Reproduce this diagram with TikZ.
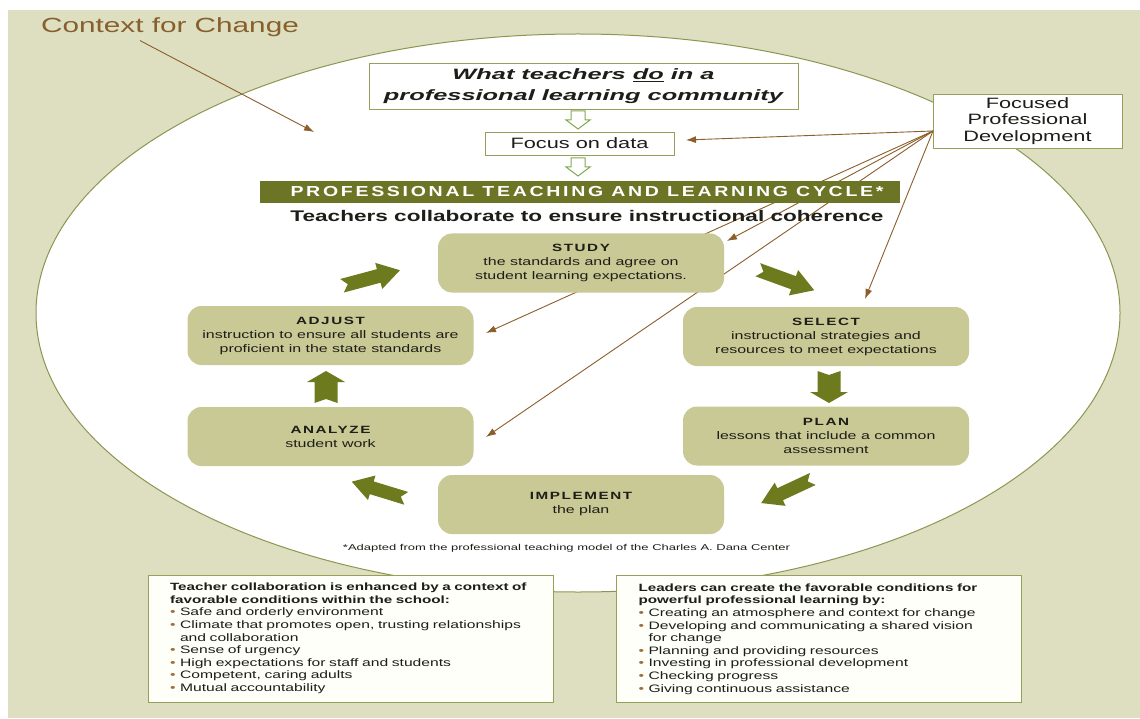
\documentclass[tikz,border=0pt]{standalone}
\usepackage{fontspec}
\usepackage{graphicx}
\setmainfont{Liberation Sans}[FakeStretch=1.45]
\newfontfamily\ttlfont{Liberation Sans}[FakeStretch=1.45,LetterSpace=15]
\newfontfamily\bannerfont{Liberation Sans}[FakeStretch=1.3,LetterSpace=18]
\usetikzlibrary{arrows.meta}
\definecolor{bgc}{RGB}{222,223,192}
\definecolor{elc}{RGB}{140,150,80}
\definecolor{khaki}{RGB}{201,201,149}
\definecolor{chevc}{RGB}{110,122,30}
\definecolor{bannerc}{RGB}{108,116,38}
\definecolor{brownc}{RGB}{139,94,44}
\definecolor{ctxc}{RGB}{135,95,45}
\definecolor{hollowc}{RGB}{130,170,80}
\definecolor{boxc}{RGB}{150,160,90}
\definecolor{creamc}{RGB}{255,255,250}
\definecolor{bulc}{RGB}{160,110,60}
\definecolor{txtc}{RGB}{30,30,25}
\newcommand\hfit[2]{\resizebox{#1}{\height}{#2}}
\newcommand\bul{\makebox[10pt][l]{\textcolor{bulc}{\textbullet}}}
\newcommand\ttl[1]{{\fontsize{10.5}{14}\ttlfont\bfseries #1}}
\newcommand\hdr[1]{{\fontsize{10.5}{12.6}\selectfont\bfseries #1}}
\tikzset{
  wbox/.style={draw=boxc, fill=white, line width=0.9pt},
  cbox/.style={fill=khaki, rounded corners=14pt, minimum width=286pt, minimum height=59pt,
    inner sep=0pt, align=center, text=txtc, font=\fontsize{11}{14}\selectfont},
  bbox/.style={draw=boxc, fill=creamc, line width=0.9pt, minimum height=127pt, text width=361pt,
    inner xsep=22pt, align=left, text=txtc, font=\fontsize{10.8}{12.6}\selectfont},
  brarrow/.style={draw=brownc, line width=0.9pt, -{Latex[length=10pt,width=7pt]}},
  chevL/.pic={\fill[chevc] (-30pt,7pt) -- (8pt,7pt) -- (8pt,13.5pt) -- (30pt,0pt) -- (8pt,-13.5pt)
      -- (8pt,-7pt) -- (-30pt,-7pt) -- (-24pt,0pt) -- cycle;},
  chevS/.pic={\fill[chevc] (-16pt,11.5pt) -- (5pt,11.5pt) -- (5pt,19pt) -- (16pt,0pt) -- (5pt,-19pt)
      -- (5pt,-11.5pt) -- (-16pt,-11.5pt) -- (-12pt,0pt) -- cycle;},
  harrow/.pic={\draw[hollowc, line width=1pt, fill=white] (-7pt,9pt) -- (7pt,9pt) -- (7pt,0pt)
      -- (12pt,0pt) -- (0pt,-9pt) -- (-12pt,0pt) -- (-7pt,0pt) -- cycle;}
}
\begin{document}
\begin{tikzpicture}[x=1pt,y=-1pt]
\useasboundingbox (0,0) rectangle (1140,719);
\fill[bgc] (8,10) rectangle (1140,718);
\draw[elc, line width=1pt, fill=white] (578,313) ellipse [x radius=542, y radius=279];

% white boxes
\node[wbox, minimum width=429pt, minimum height=46pt, inner sep=0pt, align=center, text=txtc,
  font=\fontsize{15}{21}\selectfont\bfseries\itshape] (what) at (583.5,86)
  {\hfit{262pt}{What teachers \underline{do} in a}\\\hfit{399pt}{professional learning community}};
\node[wbox, minimum width=189pt, minimum height=23pt, inner sep=0pt, text=txtc,
  font=\fontsize{15}{18}\selectfont] (focus) at (579.5,143.5) {Focus on data};
\node[wbox, minimum width=189pt, minimum height=54pt, inner sep=0pt, align=center, text=txtc,
  font=\fontsize{15}{16.5}\selectfont] (fpd) at (1027.5,121) {Focused\\Professional\\Development};
\pic at (578,120) {harrow};
\pic at (578,167) {harrow};

% focused professional development connectors
\coordinate (src) at (933,131);
\coordinate (tipfocus) at (686,140);
\coordinate (tipstudy) at (727,241);
\coordinate (tipselect) at (865,299);
\coordinate (tipadjust) at (486,333);
\coordinate (tipanalyze) at (486,437);
\draw[brarrow] (src) -- (tipfocus);
\draw[brarrow] (src) -- (tipstudy);
\draw[brarrow] (src) -- (tipselect);
\draw[brarrow] (src) -- (tipadjust);
\draw[brarrow] (src) -- (tipanalyze);

% banner and subtitle
\node[fill=bannerc, minimum width=640pt, minimum height=22pt, inner sep=0pt, text=white,
  font=\fontsize{14.5}{16}\selectfont] (banner) at (580,192)
  {\hspace*{14pt}\hfit{593pt}{\bannerfont\bfseries PROFESSIONAL TEACHING AND LEARNING CYCLE*}};
\node[text=txtc, font=\fontsize{15.4}{18}\selectfont\bfseries] (sub) at (587,215.5)
  {\hfit{593pt}{Teachers collaborate to ensure instructional coherence}};

% cycle boxes
\node[cbox] (study) at (581,263) {\ttl{STUDY}\\the standards and agree on\\student learning expectations.};
\node[cbox] (adjust) at (330.5,335.5) {\ttl{ADJUST}\\instruction to ensure all students are\\proficient in the state standards};
\node[cbox] (select) at (826,336.5) {\ttl{SELECT}\\instructional strategies and\\resources to meet expectations};
\node[cbox] (analyze) at (330.5,436.5) {\ttl{ANALYZE}\\student work};
\node[cbox] (plan) at (826,436) {\ttl{PLAN}\\lessons that include a common\\assessment};
\node[cbox] (implement) at (581,504.5) {\ttl{IMPLEMENT}\\the plan};

% cycle chevrons
\pic[rotate=15] at (371,278) {chevL};
\pic[rotate=-20] at (786,280) {chevL};
\pic[rotate=-90] at (829,387) {chevS};
\pic[rotate=205,scale=0.95] at (787,491) {chevL};
\pic[rotate=163,scale=0.95] at (379,490) {chevL};
\pic[rotate=90] at (326,387) {chevS};

\node[text=txtc, font=\fontsize{8.5}{10}\selectfont] (foot) at (566.5,548)
  {\hfit{447pt}{*Adapted from the professional teaching model of the Charles A. Dana Center}};

% bottom boxes
\node[bbox] (lbox) at (350.5,638.5) {%
\hdr{Teacher collaboration is enhanced by a context of}\\
\hdr{favorable conditions within the school:}\\
\bul Safe and orderly environment\\
\bul Climate that promotes open, trusting relationships\\
\hspace*{10pt}and collaboration\\
\bul Sense of urgency\\
\bul High expectations for staff and students\\
\bul Competent, caring adults\\
\bul Mutual accountability};
\node[bbox] (rbox) at (819,639) {%
\hdr{Leaders can create the favorable conditions for}\\
\hdr{powerful professional learning by:}\\
\bul Creating an atmosphere and context for change\\
\bul Developing and communicating a shared vision\\
\hspace*{10pt}for change\\
\bul Planning and providing resources\\
\bul Investing in professional development\\
\bul Checking progress\\
\bul Giving continuous assistance};

% context
\node[font=\fontsize{20.5}{24}\selectfont, text=ctxc] (ctx) at (170,27.5) {Context for Change};
\coordinate (ctxend) at (314,132);
\draw[brarrow] ([xshift=-30pt]ctx.south) -- (ctxend);
\end{tikzpicture}
\end{document}
